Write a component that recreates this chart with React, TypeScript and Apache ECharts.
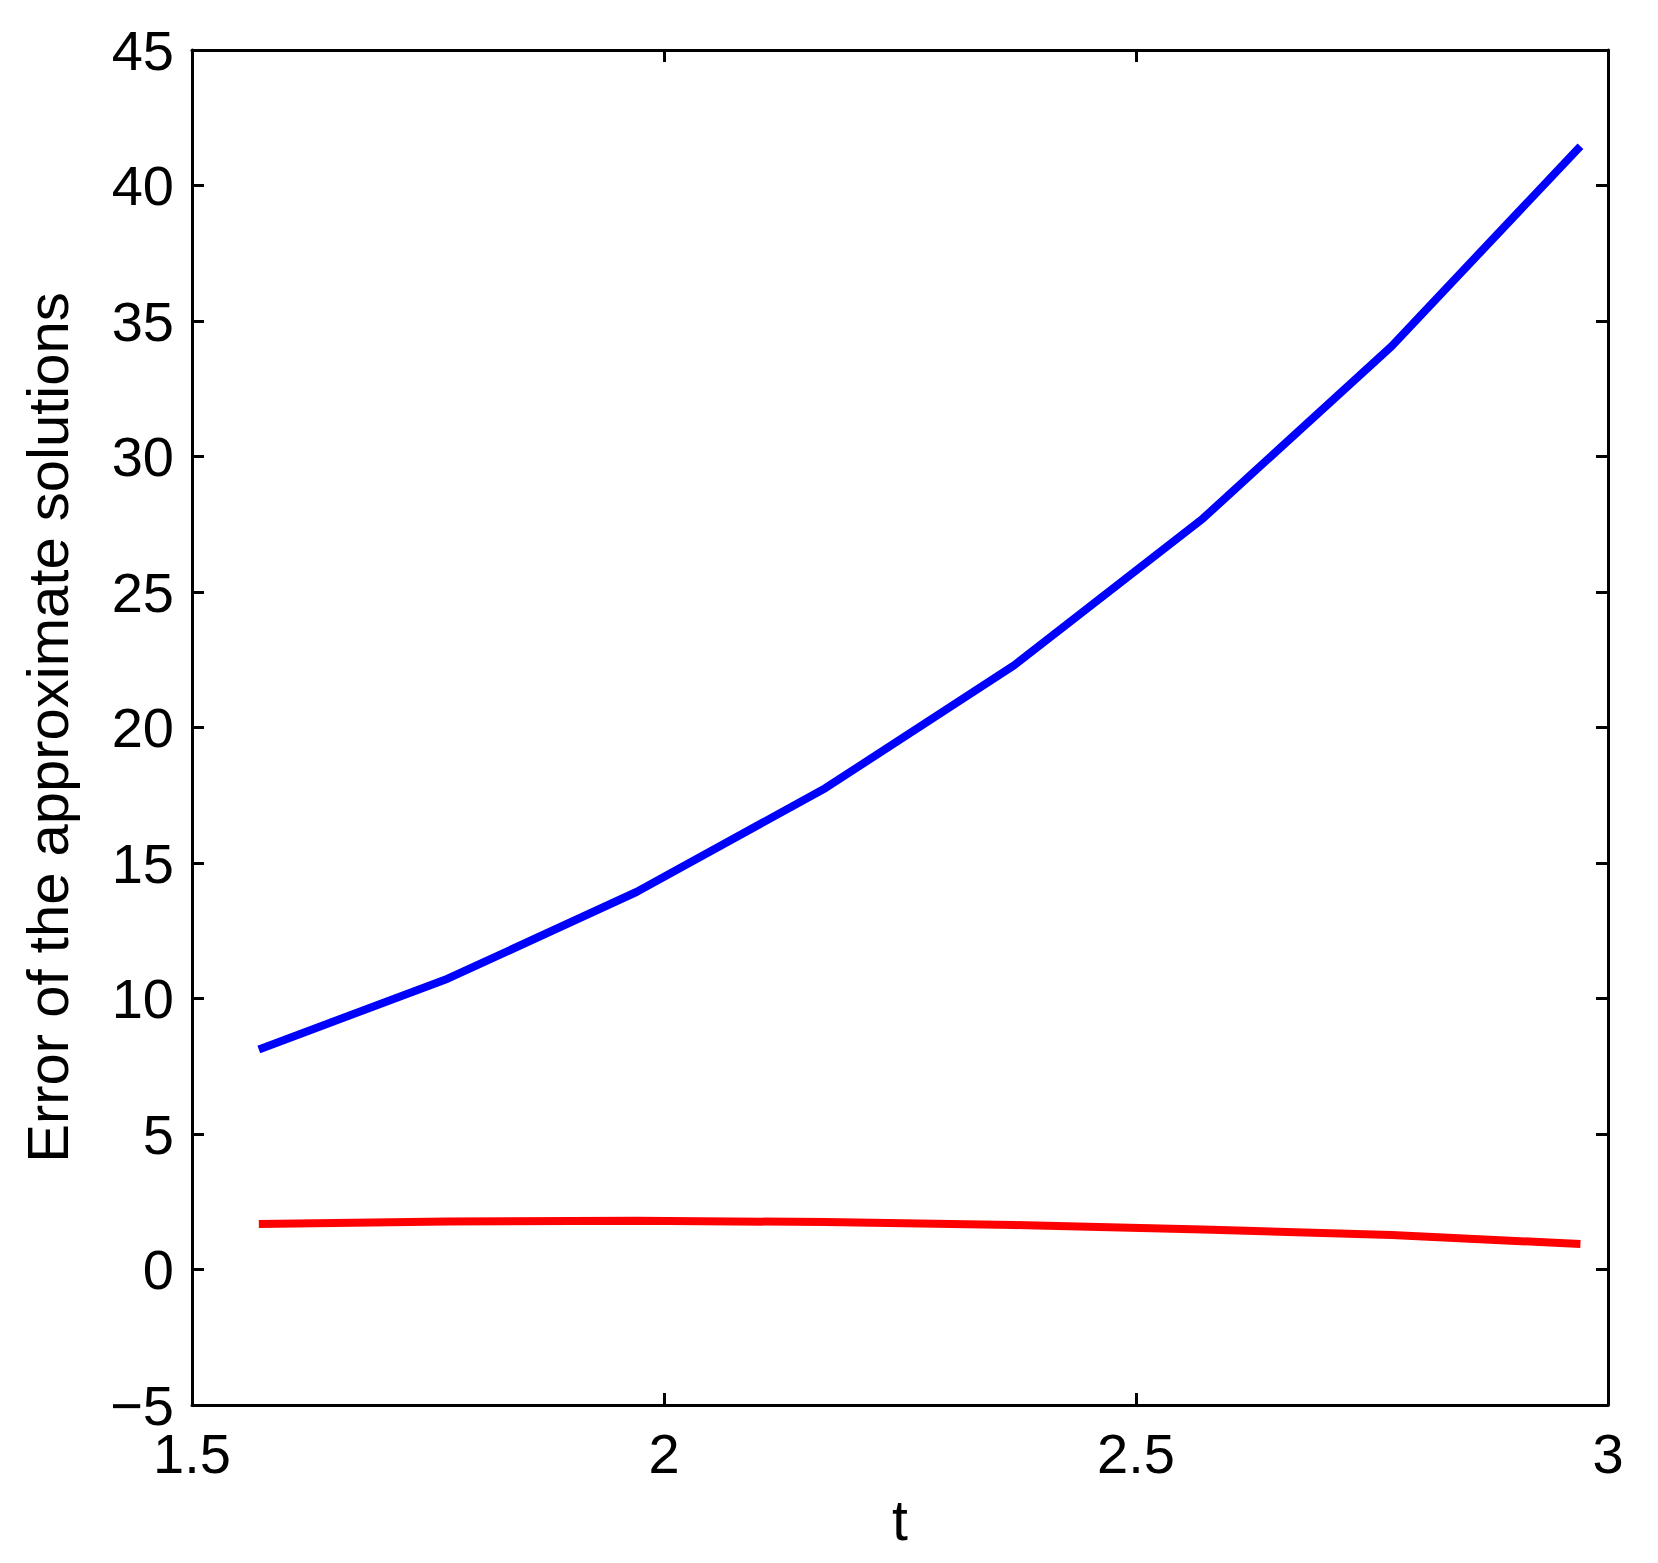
import React, { useEffect, useRef } from "react";
import * as echarts from "echarts";

const tValues = [1.5708, 1.7708, 1.9708, 2.1708, 2.3708, 2.5708, 2.7708, 2.9708];
const blueErrors = [8.12, 10.73, 13.93, 17.76, 22.29, 27.71, 34.07, 41.45];
const redErrors = [1.68, 1.77, 1.8, 1.75, 1.64, 1.48, 1.27, 0.94];

const xTitle = "t";
const yTitle = "Error of the approximate solutions";

const FONT = "'Liberation Sans', Arial, Helvetica, sans-serif";

export default function App() {
  const ref = useRef<HTMLDivElement>(null);
  useEffect(() => {
    if (!ref.current) return;
    const chart = echarts.init(ref.current, null, { renderer: "svg" });
    const axisLine = { show: true, onZero: false, lineStyle: { color: "#000", width: 3 } };
    const axisTick = { show: true, inside: true, length: 12, lineStyle: { color: "#000", width: 3 } };
    const fmt = (v: number) => String(v).replace("-", "\u2212");
    chart.setOption({
      animation: false,
      backgroundColor: "#fff",
      grid: { left: 192, right: 50, top: 50, bottom: 158, containLabel: false },
      xAxis: [
        {
          type: "value",
          min: 1.5,
          max: 3,
          interval: 0.5,
          position: "bottom",
          name: xTitle,
          nameLocation: "middle",
          nameGap: 86,
          nameTextStyle: { color: "#000", fontSize: 57, fontFamily: FONT },
          axisLine,
          axisTick,
          splitLine: { show: false },
          axisLabel: { color: "#000", fontSize: 56, fontFamily: FONT, margin: 20, formatter: fmt },
        },
        {
          type: "value",
          min: 1.5,
          max: 3,
          interval: 0.5,
          position: "top",
          axisLine,
          axisTick,
          splitLine: { show: false },
          axisLabel: { show: false },
        },
      ],
      yAxis: [
        {
          type: "value",
          min: -5,
          max: 45,
          interval: 5,
          position: "left",
          name: yTitle,
          nameLocation: "middle",
          nameRotate: 90,
          nameGap: 116,
          nameTextStyle: { color: "#000", fontSize: 58, fontFamily: FONT },
          axisLine,
          axisTick,
          splitLine: { show: false },
          axisLabel: { color: "#000", fontSize: 56, fontFamily: FONT, margin: 18, formatter: fmt },
        },
        {
          type: "value",
          min: -5,
          max: 45,
          interval: 5,
          position: "right",
          axisLine,
          axisTick,
          splitLine: { show: false },
          axisLabel: { show: false },
        },
      ],
      series: [
        {
          type: "line",
          data: tValues.map((t, i) => [t, blueErrors[i]]),
          showSymbol: false,
          lineStyle: { color: "#0000ff", width: 8 },
          itemStyle: { color: "#0000ff" },
        },
        {
          type: "line",
          data: tValues.map((t, i) => [t, redErrors[i]]),
          showSymbol: false,
          lineStyle: { color: "#ff0000", width: 8 },
          itemStyle: { color: "#ff0000" },
        },
      ],
    });
    return () => chart.dispose();
  }, []);
  return (
    <div
      ref={ref}
      style={{ position: "fixed", left: 0, top: 0, width: 1658, height: 1563, background: "#fff" }}
    />
  );
}
